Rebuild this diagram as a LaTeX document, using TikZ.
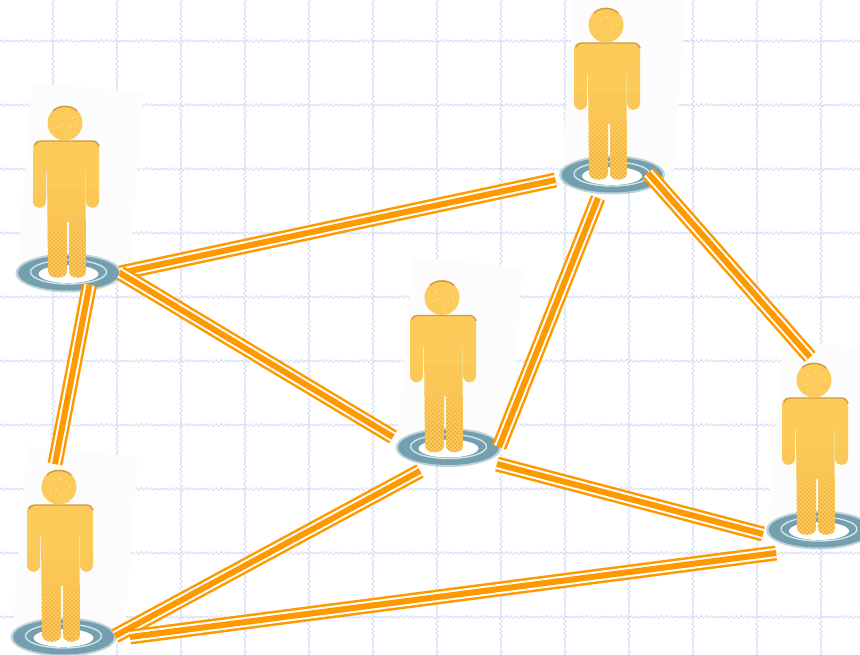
\documentclass[tikz,border=0pt]{standalone}
\usetikzlibrary{decorations.pathmorphing}
\definecolor{gridblue}{HTML}{D2DAFB}
\definecolor{lineor}{HTML}{FF9900}
\definecolor{ringc}{HTML}{739FAE}
\definecolor{ringl}{HTML}{D5E3E7}
\definecolor{bodyc}{HTML}{FDCB5A}
\definecolor{dotc}{HTML}{EBA03A}
\definecolor{edgec}{HTML}{CE9A45}
\newcommand{\silhouette}{(-29,-132) -- (25,-132) .. controls (29,-132) and (31,-129) .. (31,-125) -- (31,-72) .. controls (31,-63) and (18,-63) .. (18,-72) -- (18,-101) -- (17.5,-101) -- (18,-2) .. controls (18,7) and (1,7) .. (1,-2) -- (1,-51) -- (-1,-51) -- (-1,-2) .. controls (-1,7) and (-20,7) .. (-20,-2) -- (-21,-101) -- (-21.5,-101) -- (-22,-72) .. controls (-22,-63) and (-35,-63) .. (-35,-72) -- (-35,-125) .. controls (-35,-129) and (-33,-132) .. (-29,-132) -- cycle}
\tikzset{
  gridline/.style={draw=gridblue,line width=1.2pt,dash pattern=on 2pt off 1pt,
    decorate,decoration={zigzag,segment length=5pt,amplitude=1pt}},
  tripleline/.style={draw=lineor,line width=15pt,
    postaction={draw=white,line width=10pt},
    postaction={draw=lineor,line width=6pt}},
  ringbase/.pic={
    \fill[white!99!black] (-36,-190) -- (74,-180) -- (60,7) -- (-51,-6) -- cycle;
    \fill[ringc,opacity=.45] (0,0) ellipse [x radius=53pt,y radius=19.5pt];
    \fill[ringc] (0,0) ellipse [x radius=50.5pt,y radius=17.5pt];
    \draw[ringl,line width=1.4pt] (0,-1) ellipse [x radius=38pt,y radius=12pt];
    \fill[white] (0,1) ellipse [x radius=30pt,y radius=9pt];
  },
  figure/.pic={
    \fill[bodyc] \silhouette;
    \begin{scope}
      \clip \silhouette;
      \foreach \yy in {-82,-78,...,4} {
        \pgfmathsetmacro{\op}{min(0.8,max(0.15,(\yy+86)/85))}
        \foreach \xx in {-36,-32,...,32} {
          \fill[dotc,opacity=\op] (\xx,\yy) circle[radius=1.1pt];
          \fill[dotc,opacity=\op] (\xx+2,\yy+2) circle[radius=1pt];
        }
      }
    \end{scope}
    \draw[edgec,line width=1.4pt,line cap=round] (-33,-128) .. controls (-32,-131) and (-30,-132) .. (-27,-132) -- (24,-132) .. controls (28,-132) and (30,-130) .. (31,-127);
    \fill[bodyc] (-3,-150) circle[radius=17.5pt];
    \draw[edgec,line width=1.4pt,line cap=round] (-15,-162) .. controls (-10,-168) and (4,-168) .. (9,-162);
    \foreach \dx/\dy in {-9/-155,-2/-158,5/-155,-6/-148,3/-146,8/-150,-11/-146,-1/-141} {
      \fill[white,opacity=.5] (\dx,\dy) circle[radius=.8pt];
    }
  }
}
\begin{document}
\begin{tikzpicture}[x=1pt,y=-1pt]
\useasboundingbox (0,0) rectangle (860,655);
\clip (0,0) rectangle (860,655);
\fill[white] (0,0) rectangle (860,655);
% grid
\foreach \gx in {53,117,181,245,309,373,437,501,565,629,693,757,821}
  \draw[gridline] (\gx,0) -- (\gx,655);
\foreach \gy in {41,105,169,233,297,361,425,489,553,617}
  \draw[gridline] (0,\gy) -- (860,\gy);
% people: base ring and figure
\coordinate (r1) at (68.5,273);
\coordinate (r2) at (612,175);
\coordinate (r3) at (448.5,447.5);
\coordinate (r4) at (819,530);
\coordinate (r5) at (63.5,637);
\coordinate (p1) at (68,273);
\coordinate (p2) at (609,175);
\coordinate (p3) at (445,447.5);
\coordinate (p4) at (817,530);
\coordinate (p5) at (62,637);
\foreach \n in {1,...,5} {
  \pic at (r\n) {ringbase};
  \pic at (p\n) {figure};
}
% connector ends
\coordinate (a12) at (120,273); \coordinate (b12) at (555.5,180);
\coordinate (a13) at (120,273); \coordinate (b13) at (393,437);
\coordinate (a15) at (89.5,285); \coordinate (b15) at (55,464);
\coordinate (a23) at (598,198); \coordinate (b23) at (499,447);
\coordinate (a24) at (648,173); \coordinate (b24) at (810,357);
\coordinate (a34) at (497,464); \coordinate (b34) at (763,534);
\coordinate (a35) at (420,471); \coordinate (b35) at (115,636);
\coordinate (a45) at (776,553); \coordinate (b45) at (130,637);
\draw[tripleline] (a12) -- (b12);
\draw[tripleline] (a13) -- (b13);
\draw[tripleline] (a15) -- (b15);
\draw[tripleline] (a23) -- (b23);
\draw[tripleline] (a24) -- (b24);
\draw[tripleline] (a34) -- (b34);
\draw[tripleline] (a35) -- (b35);
\draw[tripleline] (a45) -- (b45);
\end{tikzpicture}
\end{document}
